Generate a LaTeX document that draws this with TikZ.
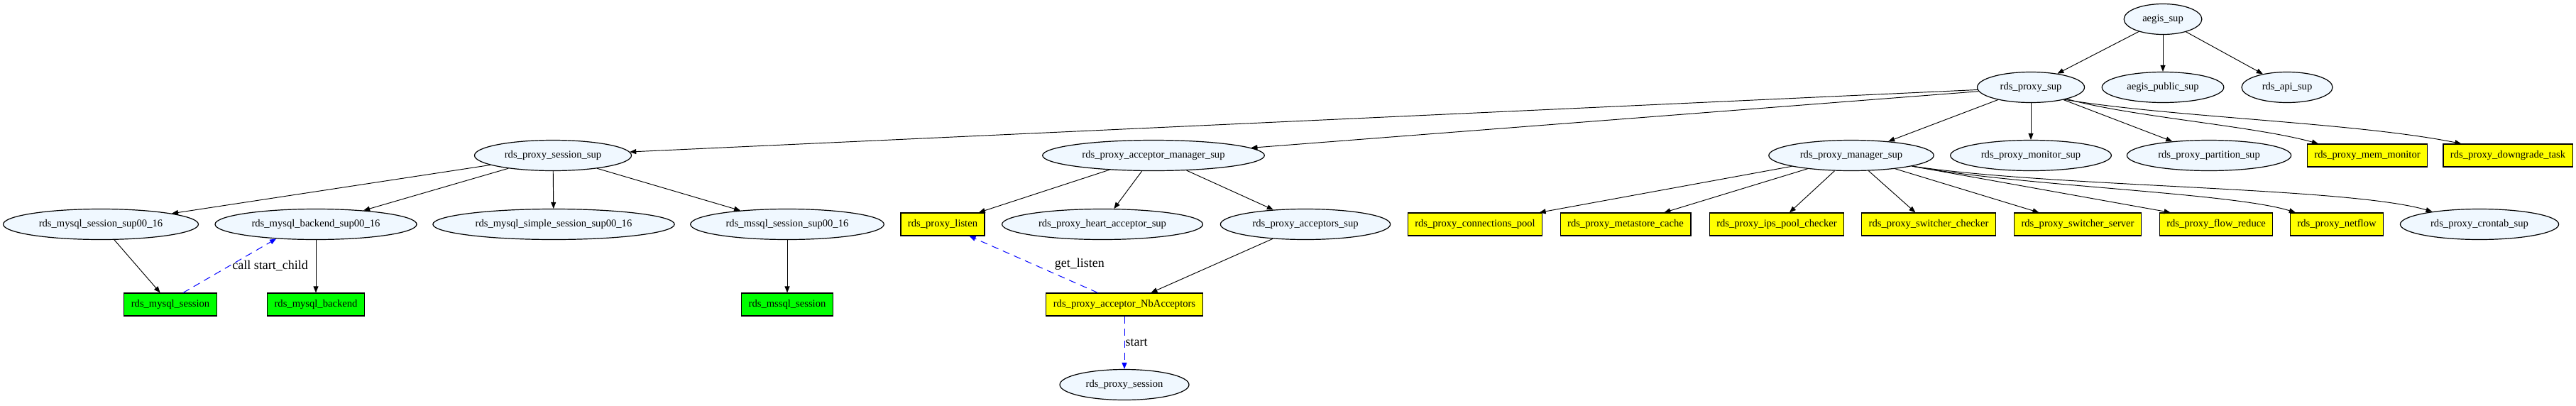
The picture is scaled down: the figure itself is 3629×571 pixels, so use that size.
\documentclass[tikz,border=0pt]{standalone}
\usepackage{fontspec}
\setmainfont{Liberation Serif}
\usepackage{tikz}
\usetikzlibrary{positioning, shapes.geometric, arrows.meta}
\definecolor{aliceblue}{HTML}{F0F8FF}
\definecolor{workeryellow}{HTML}{FFFF00}
\definecolor{sessiongreen}{HTML}{00FF00}
\tikzset{
	dottext/.style={font=\fontsize{14.6}{17}\selectfont, text=black},
	edgetext/.style={font=\fontsize{18}{21}\selectfont, text=black}
}
\tikzset{
	supnode/.style={ellipse, draw, line width=1.2pt, fill=aliceblue, inner xsep=10pt, minimum height=43pt, dottext},
	worker/.style={rectangle, draw, line width=1.2pt, fill=workeryellow, inner xsep=10pt, minimum height=32pt, dottext},
	sessionbox/.style={worker, fill=sessiongreen}
}
\tikzset{
	link/.style={->, line width=0.95pt},
	calllink/.style={->, line width=1pt, blue, dash pattern=on 10pt off 7pt}
}
\newcommand{\rdsp}{rds\_proxy\_}

\begin{document}
\begin{tikzpicture}[x=1pt, y=-1pt, >={Triangle[length=9pt, width=7pt]}]
      \useasboundingbox (0,0) rectangle (3629,571);
      % root and its children
      \node[supnode] (aegis) at (3047,27) {aegis\_sup};
      \node[supnode] (proxysup) at (2861,123) {rds\_proxy\_sup};
      \node[supnode] (aegispub) at (3047,123) {aegis\_public\_sup};
      \node[supnode] (apisup) at (3222,123) {rds\_api\_sup};
      \foreach \child in {proxysup, aegispub, apisup}
        \draw[link] (aegis) -- (\child);
      % children of rds_proxy_sup
      \node[supnode] (sessionsup) at (779,219) {\rdsp session\_sup};
      \node[supnode] (accmgr) at (1625,219) {\rdsp acceptor\_manager\_sup};
      \node[supnode] (mgrsup) at (2608,219) {\rdsp manager\_sup};
      \node[supnode] (monitor) at (2861,219) {\rdsp monitor\_sup};
      \node[supnode] (partition) at (3112,219) {\rdsp partition\_sup};
      \node[worker] (memmon) at (3335,219) {\rdsp mem\_monitor};
      \node[worker] (downgrade) at (3533,219) {\rdsp downgrade\_task};
      \foreach \child in {sessionsup, accmgr, mgrsup, monitor, partition}
        \draw[link] (proxysup) -- (\child);
      % these two swing over the boxes
      \draw[link] (proxysup.-18) .. controls +(90,25) and +(-90,-25) .. ([xshift=16pt]memmon.north west);
      \draw[link] (proxysup.-20) .. controls +(150,25) and +(-150,-30) .. ([xshift=26pt]downgrade.north west);
      % session supervisors
      \node[supnode] (mysqlsesssup) at (142,316) {rds\_mysql\_session\_sup00\_16};
      \node[supnode] (mysqlbacksup) at (445,316) {rds\_mysql\_backend\_sup00\_16};
      \node[supnode] (simplesup) at (780,316) {rds\_mysql\_simple\_session\_sup00\_16};
      \node[supnode] (mssqlsup) at (1109,316) {rds\_mssql\_session\_sup00\_16};
      \foreach \child in {mysqlsesssup, mysqlbacksup, simplesup, mssqlsup}
        \draw[link] (sessionsup) -- (\child);
      \node[sessionbox] (mysqlsess) at (240,429) {rds\_mysql\_session};
      \node[sessionbox] (mysqlback) at (445,429) {rds\_mysql\_backend};
      \node[sessionbox] (mssqlsess) at (1109,429) {rds\_mssql\_session};
      \draw[link] (mysqlsesssup) -- (mysqlsess);
      \draw[link] (mysqlbacksup) -- (mysqlback);
      \draw[link] (mssqlsup) -- (mssqlsess);
      % session asks the backend sup for a child
      \draw[calllink] ([xshift=18pt]mysqlsess.north) -- node[midway, right, edgetext] (callnote) {call start\_child} (mysqlbacksup.200);
      % acceptor side
      \node[worker] (listen) at (1328,316) {\rdsp listen};
      \node[supnode] (heart) at (1553,316) {\rdsp heart\_acceptor\_sup};
      \node[supnode] (acceptors) at (1839,316) {\rdsp acceptors\_sup};
      \foreach \child in {listen, heart, acceptors}
        \draw[link] (accmgr) -- (\child);
      \node[worker] (nbacc) at (1584,429) {\rdsp acceptor\_NbAcceptors};
      \node[supnode] (proxysess) at (1584,542) {\rdsp session};
      \draw[link] (acceptors) -- (nbacc);
      \draw[calllink] (nbacc) -- node[midway, right=26pt, edgetext] (listennote) {get\_listen} (listen);
      \draw[calllink] (nbacc) -- node[midway, right, inner sep=1pt, edgetext] (startnote) {start} (proxysess);
      % workers under rds_proxy_manager_sup
      \foreach \n/\x/\lbl in {connpool/2078/connections\_pool, metastore/2290/metastore\_cache,
          ipspool/2503/ips\_pool\_checker, swchecker/2717/switcher\_checker,
          swserver/2927/switcher\_server, flowreduce/3122/flow\_reduce, netflow/3292/netflow}
        \node[worker] (\n) at (\x,316) {\rdsp\lbl};
      \node[supnode] (crontab) at (3493,316) {\rdsp crontab\_sup};
      \foreach \child in {connpool, metastore, ipspool, swchecker, swserver}
        \draw[link] (mgrsup) -- (\child);
      \draw[link] (mgrsup.-10) -- ([xshift=16pt]flowreduce.north west);
      \draw[link] (mgrsup.-10) .. controls +(150,28) and +(-90,-28) .. ([xshift=8pt]netflow.north west);
      \draw[link] (mgrsup.-10) .. controls +(200,30) and +(-120,-35) .. (crontab.165);
\end{tikzpicture}
\end{document}
